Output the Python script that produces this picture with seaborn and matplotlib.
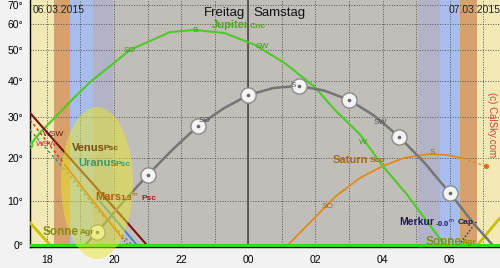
import numpy as np
import matplotlib
matplotlib.use('Agg')
import matplotlib.pyplot as plt
import seaborn as sns
from matplotlib.patches import Ellipse

# ---------------- data (hours after midnight of 06.03., altitude in degrees) -------------
twilight_edges = [17.5, 18.21, 18.69, 19.375, 19.97, 29.05, 29.70, 30.32, 30.80, 31.5]
twilight_colors = ['#f2e9b5', '#d6a16c', '#a9bdec', '#b3b3c8', '#c1bdb9',
                   '#b3b3c8', '#a9bdec', '#d6a16c', '#f2e9b5']

jup_h = [17.5, 17.8, 18.75, 19.29, 20.48, 21.67, 22.41, 23.3, 24.2, 25.09, 25.98, 26.58, 27.32, 28.01, 28.72, 29.85]
jup_alt = [23.1, 26.1, 34.7, 39.7, 49.9, 56.6, 57.5, 56.2, 51.7, 45.5, 38.3, 32.0, 25.8, 18.0, 11.5, 0.0]

moon_h = [19.15, 19.5, 20.25, 21.0, 21.75, 22.5, 23.25, 24.0, 24.75, 25.5, 26.25, 27.0, 27.75, 28.5, 29.25, 30.0, 30.75, 31.28]
moon_alt = [0.0, 2.9, 9.5, 15.9, 22.0, 27.8, 32.3, 36.0, 38.0, 38.6, 37.3, 34.7, 30.5, 25.1, 18.8, 11.8, 4.5, 0.0]
moon_mark_h = [19.5, 21.0, 22.5, 24.0, 25.5, 27.0, 28.5, 30.0]
moon_mark_alt = [2.9, 15.9, 27.8, 36.0, 38.6, 34.7, 25.1, 11.8]

sat_h = [25.18, 25.86, 26.58, 27.32, 28.01, 28.66, 29.4, 29.91, 30.39]
sat_alt = [0.0, 5.2, 10.85, 15.2, 18.05, 20.0, 20.9, 20.7, 19.9]
sat_day_h = [30.39, 31.07]
sat_day_alt = [19.9, 18.0]

venus_h = [17.5, 18.39, 19.29, 20.18, 20.98]
venus_alt = [31.2, 22.6, 14.6, 6.9, 0.0]

mars_day_h = [17.5, 18.54]
mars_day_alt = [29.4, 18.3]
mars_h = [18.54, 19.38, 20.24]
mars_alt = [18.3, 9.9, 1.6]
mars_low_h = [20.24, 20.42]
mars_low_alt = [1.6, 0.0]

uranus_h = [17.5, 18.5, 19.5, 20.54]
uranus_alt = [26.8, 17.5, 8.0, 0.0]
blue_h = [19.58, 20.68]
blue_alt = [9.9, 0.0]

sun_eve_h = [17.5, 18.1]
sun_eve_alt = [5.0, 0.0]
sun_morn_h = [30.83, 31.5]
sun_morn_alt = [0.0, 6.1]

merc_h = [30.27, 30.80]
merc_alt = [0.0, 5.2]

xticks = [18, 20, 22, 24, 26, 28, 30]
xtick_labels = ['18', '20', '22', '00', '02', '04', '06']
yticks = [0, 10, 20, 30, 40, 50, 60, 70]
ytick_labels = ['0°', '10°', '20°', '30°', '40°', '50°', '60°', '70°']

# ---------------- figure ----------------
sns.set_theme(style='white')
plt.rcParams['font.family'] = ['Liberation Sans', 'DejaVu Sans']

W, H = 500, 268
fig = plt.figure(figsize=(W / 100, H / 100), dpi=100, facecolor='#f2f2f2')
ax = fig.add_axes([30 / W, (H - 247) / H, 470 / W, 247 / H])


def fwd(a):
    return np.sin(np.radians(np.clip(a, -90, 90)))


def inv(s):
    return np.degrees(np.arcsin(np.clip(s, -1, 1)))


ax.set_yscale('function', functions=(fwd, inv))
ax.set_xlim(17.5, 31.5)
ax.set_ylim(-0.45, 73.9)

for i, c in enumerate(twilight_colors):
    ax.axvspan(twilight_edges[i], twilight_edges[i + 1], color=c, lw=0, zorder=0)

for h in range(18, 32):
    ax.axvline(h, color='#555555', ls=(0, (1, 1.6)), lw=0.7, zorder=1)
for a in yticks[1:]:
    ax.axhline(a, color='#555555', ls=(0, (1, 1.6)), lw=0.7, zorder=1)
ax.axvline(24, color='#404040', lw=1.1, zorder=1.5)

# curves
kw = dict(ax=ax, sort=False, estimator=None, legend=False)
sns.lineplot(x=jup_h, y=jup_alt, color='#4ccc22', lw=1.5, zorder=3, **kw)
sns.lineplot(x=sat_h, y=sat_alt, color='#e08a1a', lw=1.3, zorder=3, **kw)
sns.lineplot(x=sat_day_h, y=sat_day_alt, color='#e08a1a', lw=1.0, ls=(0, (2, 2)), zorder=3, **kw)
sns.lineplot(x=uranus_h, y=uranus_alt, color='#3a9a70', lw=1.0, ls=(0, (2, 2)), zorder=3, **kw)
sns.lineplot(x=blue_h, y=blue_alt, color='#3a7ee0', lw=1.3, zorder=3, **kw)
sns.lineplot(x=mars_day_h, y=mars_day_alt, color='#d03020', lw=1.0, ls=(0, (2, 2)), zorder=3, **kw)
sns.lineplot(x=mars_h, y=mars_alt, color='#e05a10', lw=1.4, zorder=3, **kw)
sns.lineplot(x=mars_low_h, y=mars_low_alt, color='#d03020', lw=1.0, ls=(0, (1, 1.5)), zorder=3, **kw)
sns.lineplot(x=venus_h, y=venus_alt, color='#7a1010', lw=1.5, zorder=3, **kw)
sns.lineplot(x=sun_eve_h, y=sun_eve_alt, color='#c8c000', lw=2.0, zorder=3, **kw)
sns.lineplot(x=sun_morn_h, y=sun_morn_alt, color='#c8c000', lw=2.0, zorder=3, **kw)
sns.lineplot(x=merc_h, y=merc_alt, color='#202060', lw=1.0, ls=(0, (1, 1.5)), zorder=3, **kw)
sns.lineplot(x=moon_h, y=moon_alt, color='#757575', lw=1.8, zorder=4, **kw)
sns.scatterplot(x=moon_mark_h, y=moon_mark_alt, s=120, color='#f4f4f4', edgecolor='#8a8a8a',
                linewidth=1.0, zorder=5, ax=ax, legend=False)
# small phase glyph inside each moon disc
sns.scatterplot(x=moon_mark_h, y=moon_mark_alt, s=7, marker='o', color='#6a6a6a', linewidth=0,
                zorder=5.5, ax=ax, legend=False)
sns.scatterplot(x=sat_day_h[-1:], y=sat_day_alt[-1:], s=14, color='#e07010', linewidth=0,
                zorder=5, ax=ax, legend=False)
sns.scatterplot(x=jup_h[:1], y=jup_alt[:1], s=18, facecolor='none', edgecolor='#4ccc22',
                linewidth=0.9, zorder=5, ax=ax, legend=False)

ax.axhline(0, color='#2ddc1e', lw=2.2, zorder=6)

# axes styling
ax.set_xticks(xticks)
ax.set_xticklabels(xtick_labels)
ax.set_yticks(yticks)
ax.set_yticklabels(ytick_labels)
ax.minorticks_off()
ax.tick_params(direction='in', length=5, width=1, colors='black', labelsize=7.5, pad=5)
ax.tick_params(axis='x', pad=6)
for s in ['top', 'right']:
    ax.spines[s].set_visible(False)
for s in ['left', 'bottom']:
    ax.spines[s].set_color('black')
    ax.spines[s].set_linewidth(1.0)
ax.set_xlabel('')
ax.set_ylabel('')

# highlight ellipse
fig.add_artist(Ellipse((97 / W, 1 - 183 / H), 72 / W, 152 / H, transform=fig.transFigure,
                       facecolor='#e8e82a', edgecolor='none', alpha=0.5, zorder=2))


def ftxt(x, y, s, **k):
    k.setdefault('va', 'center')
    fig.text(x / W, 1 - y / H, s, zorder=7, **k)


ftxt(245, 13, 'Freitag', ha='right', fontsize=9.5, color='#111111')
ftxt(253, 13, 'Samstag', ha='left', fontsize=9.5, color='#111111')
ftxt(33, 10, '06.03.2015', fontsize=7.5, color='#222222')
ftxt(449, 10, '07.03.2015', fontsize=7.5, color='#222222')
ftxt(492, 125, '(c) CalSky.com', fontsize=7, color='#d04040', rotation=270, ha='center')

ftxt(212, 25, 'Jupiter', fontsize=8, fontweight='bold', color='#4aaa1e')
ftxt(250, 26, 'Cnc', fontsize=6, fontweight='bold', color='#4aaa1e')
ftxt(72, 148, 'Venus', fontsize=8, fontweight='bold', color='#7a4a10')
ftxt(104, 149, 'Psc', fontsize=6, fontweight='bold', color='#7a4a10')
ftxt(78, 163, 'Uranus', fontsize=8, fontweight='bold', color='#3a9a6a')
ftxt(116, 164, 'Psc', fontsize=6, fontweight='bold', color='#3a9a6a')
ftxt(95, 197, 'Mars', fontsize=8, fontweight='bold', color='#b85a10')
ftxt(120, 197, '1.3$^{\\rm m}$', fontsize=6, fontweight='bold', color='#b85a10')
ftxt(141, 198, 'Psc', fontsize=6, fontweight='bold', color='#aa1818')
ftxt(43, 232, 'Sonne', fontsize=8.5, fontweight='bold', color='#8a8a10')
ftxt(80, 233, 'Agr', fontsize=6, fontweight='bold', color='#8a8a10')
ftxt(426, 242, 'Sonne', fontsize=8.5, fontweight='bold', color='#8a8a10')
ftxt(462, 243, 'Agr', fontsize=6, fontweight='bold', color='#8a8a10')
ftxt(399, 222, 'Merkur', fontsize=7.5, fontweight='bold', color='#1a1a60')
ftxt(435, 222, '-0.0$^{\\rm m}$', fontsize=5.5, fontweight='bold', color='#1a1a60')
ftxt(458, 223, 'Cap', fontsize=6, fontweight='bold', color='#1a1a60')
ftxt(333, 160, 'Saturn', fontsize=8, fontweight='bold', color='#a86a10')
ftxt(370, 161, 'Sco', fontsize=6, fontweight='bold', color='#a86a10')

ftxt(54, 134, 'WSW', fontsize=6, color='#6a1010', ha='center')
ftxt(47, 145, 'WSW', fontsize=6, color='#c03030', ha='center')

for (x, y, s) in [(130, 50, 'SO'), (195, 30, 'S'), (262, 47, 'SW'), (363, 142, 'W')]:
    ftxt(x, y, s, fontsize=6, color='#3a9a1a', ha='center')
for (x, y, s) in [(205, 120, 'SO'), (293, 85, 'S'), (380, 122, 'SW')]:
    ftxt(x, y, s, fontsize=6, color='#555555', ha='center')
for (x, y, s) in [(328, 206, 'SO'), (432, 153, 'S')]:
    ftxt(x, y, s, fontsize=6, color='#a86a10', ha='center')

fig.savefig('out.png', dpi=100, facecolor=fig.get_facecolor())
